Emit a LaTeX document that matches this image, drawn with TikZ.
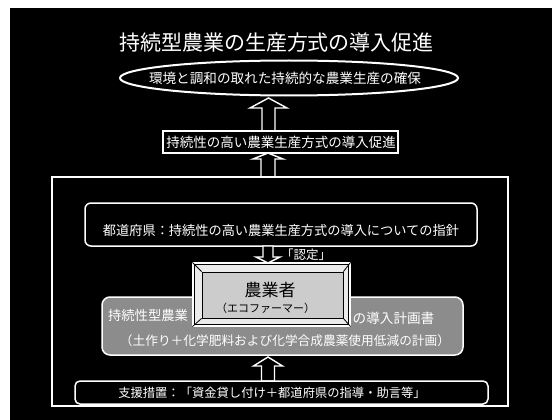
\documentclass[tikz,border=0pt]{standalone}
\usepackage{fontspec}
\setmainfont{Noto Sans CJK JP}
\usetikzlibrary{shapes.geometric,calc}
\newcommand\fsz[1]{\fontsize{#1}{#1}\selectfont}
\newcommand\barrowup[5]{%
  \draw[blockarr] (#1) -- ++(-#3,#4) -- ++({#3-#5},0) -- ++(0,{#2-#4}) -- ++({2*#5},0) -- ++(0,{-(#2-#4)}) -- ++({#3-#5},0) -- cycle;}
\begin{document}
\begin{tikzpicture}[x=1pt,y=-1pt,
  wline/.style={draw=white,line width=1.5pt},
  lbl/.style={text=white,inner sep=0pt},
  blockarr/.style={draw=white,fill=black,line width=1.4pt,line join=miter},
  boxnode/.style={wline,rectangle,inner sep=0pt},
  ]
\useasboundingbox (0,0) rectangle (552,420);
\fill[white] (0,0) rectangle (552,420);
\fill[black] (10,8) rectangle (552,420);

% title and goal
\node[lbl,font=\fsz{21}] (title) at (276.5,43) {持続型農業の生産方式の導入促進};
\node[ellipse,wline,line width=2pt,minimum width=338pt,minimum height=35pt,inner sep=0pt] (goal) at (289,78) {};
\node[lbl,font=\fsz{13.6}] (goaltxt) at (285,78) {環境と調和の取れた持続的な農業生産の確保};

% arrows
\coordinate (t1) at (268.5,98);
\barrowup{t1}{33}{18.5}{10}{6.5}
\coordinate (t2) at (268,153);
\barrowup{t2}{24}{15}{6}{7}

\node[boxnode,fill=black,minimum width=235pt,minimum height=22pt] (promo) at (280.5,142) {};
\node[lbl,font=\fsz{13.5}] (promotxt) at (281,142) {持続性の高い農業生産方式の導入促進};

% outer frame
\node[boxnode,minimum width=456pt,minimum height=229pt] (frame) at (280,291.5) {};

% guideline box
\node[boxnode,rounded corners=6pt,minimum width=392pt,minimum height=43pt] (guide) at (281,224.5) {};
\node[lbl,font=\fsz{13.2}] (guidetxt) at (281,230) {都道府県：持続性の高い農業生産方式の導入についての指針};

% down arrow with label
\coordinate (t3) at (268,263);
\draw[blockarr] (t3) -- ++(-12,-6) -- ++(7,0) -- ++(0,-11) -- ++(10,0) -- ++(0,11) -- ++(7,0) -- cycle;
\node[lbl,font=\fsz{12.5}] (nintei) at (306,255) {「認定」};

% plan box
\node[boxnode,rounded corners=8pt,fill=black!45,minimum width=361pt,minimum height=58pt] (plan) at (282.5,326) {};
\node[lbl,font=\fsz{13.3}] (plan1) at (148,315) {持続性型農業};
\node[lbl,font=\fsz{13.6}] (plan2) at (393.5,318) {の導入計画書};
\node[lbl,font=\fsz{12.7}] (plan3) at (285,341) {（土作り＋化学肥料および化学合成農薬使用低減の計画）};

% farmer box (bevelled)
\node[rectangle,draw=white,line width=1.2pt,fill=black!8,minimum width=157pt,minimum height=63pt,inner sep=0pt] (farmer) at (271.5,294.5) {};
\node[rectangle,draw=black,line width=0.8pt,fill=black!20,minimum width=141pt,minimum height=46pt,inner sep=0pt] (farmerin) at (272.5,295) {};
\draw[black,line width=0.8pt] (farmer.north west) -- (farmerin.north west)
  (farmer.north east) -- (farmerin.north east)
  (farmer.south west) -- (farmerin.south west)
  (farmer.south east) -- (farmerin.south east);
\draw[black,line width=0.6pt] ($(farmer.north west)+(2,2)$) rectangle ($(farmer.south east)+(-2,-2)$);
\node[inner sep=0pt,font=\fsz{17}] (farmertxt) at (270,290) {農業者};
\node[inner sep=0pt,font=\fsz{11}] (ecotxt) at (265.5,308) {（エコファーマー）};

% support box and arrow
\coordinate (t4) at (268,357);
\barrowup{t4}{24}{14.5}{9}{6.5}
\node[boxnode,rounded corners=5pt,minimum width=413pt,minimum height=23pt] (support) at (281.5,392.5) {};
\node[lbl,font=\fsz{12.3}] (supporttxt) at (272,393) {支援措置：「資金貸し付け＋都道府県の指導・助言等」};
\end{tikzpicture}
\end{document}
